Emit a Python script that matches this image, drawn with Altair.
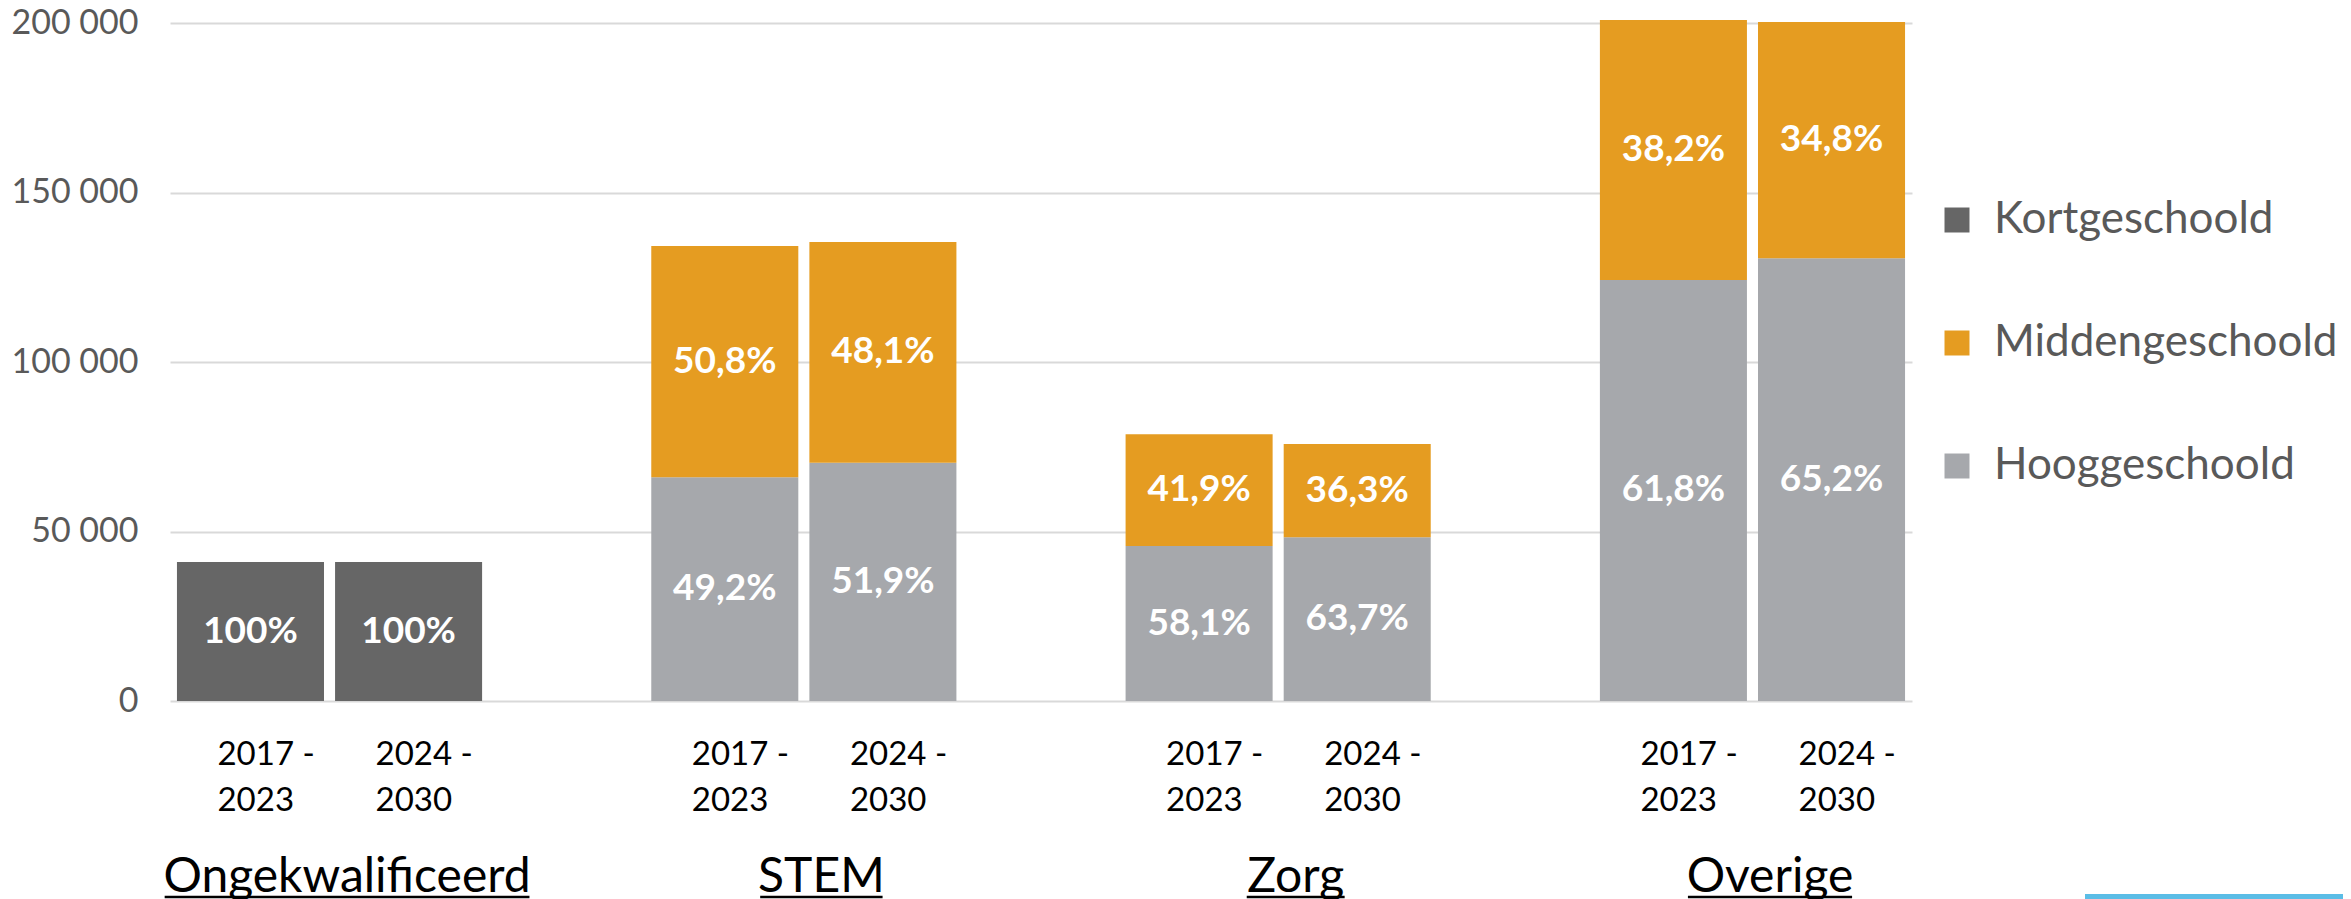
import altair as alt
import pandas as pd

FONT = "Lato"

groups = ["Ongekwalificeerd", "STEM", "Zorg", "Overige"]
periods = ["2017 - 2023", "2024 - 2030"]
levels = ["Kortgeschoold", "Middengeschoold", "Hooggeschoold"]
level_colors = ["#666666", "#E59C21", "#A6A8AC"]

# one entry per bar: (group, period) in order
kort_values = [41000, 41000, 0, 0, 0, 0, 0, 0]
midden_values = [0, 0, 68200, 65100, 33000, 27500, 76700, 69700]
hoog_values = [0, 0, 66000, 70300, 45700, 48300, 124200, 130600]
kort_pct = [100, 100, 0, 0, 0, 0, 0, 0]
midden_pct = [0, 0, 50.8, 48.1, 41.9, 36.3, 38.2, 34.8]
hoog_pct = [0, 0, 49.2, 51.9, 58.1, 63.7, 61.8, 65.2]
y_ticks = [0, 50000, 100000, 150000, 200000]

GROUP_FONT_SIZE = 48
# approximate Lato Regular advance widths (em) used to size the underlines
LATO_EM = {"O": 0.76, "n": 0.56, "g": 0.51, "e": 0.52, "k": 0.51, "w": 0.77, "a": 0.49,
           "l": 0.24, "i": 0.24, "f": 0.33, "c": 0.46, "r": 0.37, "d": 0.56, "S": 0.53,
           "T": 0.58, "E": 0.55, "M": 0.89, "Z": 0.60, "o": 0.56, "v": 0.50}

bar_keys = [f"{g}|{p}" for g in groups for p in periods]
slot_domain = []
for gi, g in enumerate(groups):
    slot_domain += [f"{g}|{p}" for p in periods]
    if gi < len(groups) - 1:
        slot_domain.append(f"gap{gi}")

stack_order = {"Hooggeschoold": 0, "Kortgeschoold": 0, "Middengeschoold": 1}
rows = []
for i, key in enumerate(bar_keys):
    for lvl, vals, pcts in [("Kortgeschoold", kort_values, kort_pct),
                            ("Hooggeschoold", hoog_values, hoog_pct),
                            ("Middengeschoold", midden_values, midden_pct)]:
        if vals[i] > 0:
            p = pcts[i]
            lab = "100%" if p == 100 else f"{p:.1f}".replace(".", ",") + "%"
            rows.append(dict(slot=key, level=lvl, value=vals[i], ord=stack_order[lvl], label=lab))
df = pd.DataFrame(rows)

gdf = pd.DataFrame({
    "slot": [f"{g}|{periods[1]}" for g in groups],
    "text": groups,
    "w": [sum(LATO_EM.get(c, 0.55) for c in g) * GROUP_FONT_SIZE for g in groups],
})

xscale = alt.Scale(domain=slot_domain, paddingInner=0.07, paddingOuter=0.044)
yscale = alt.Scale(domain=[0, 200000], nice=False)

x_label_expr = ("length(split(datum.value, '|')) < 2 ? '' : "
                "[substring(split(datum.value, '|')[1], 0, 6), substring(split(datum.value, '|')[1], 7)]")

base = alt.Chart(df).transform_stack(
    stack="value", groupby=["slot"], sort=[alt.SortField("ord", order="ascending")], as_=["y0", "y1"]
).transform_calculate(mid="(datum.y0 + datum.y1) / 2")

bars = base.mark_bar().encode(
    x=alt.X("slot:N", scale=xscale, sort=slot_domain,
            axis=alt.Axis(title=None, labelExpr=x_label_expr, labelAlign="left", labelOffset=-33,
                          labelPadding=37, labelFontSize=33, labelColor="#000000", labelFont=FONT,
                          labelLineHeight=46, domain=False, ticks=False, labelAngle=0,
                          labelBaseline="top", labelOverlap=False)),
    y=alt.Y("y0:Q", scale=yscale,
            axis=alt.Axis(title=None, values=y_ticks,
                          labelExpr="replace(format(datum.value, ','), ',', ' ')",
                          labelFontSize=34, labelColor="#595959", labelFont=FONT, labelPadding=32,
                          domain=False, ticks=False, grid=True, gridColor="#D9D9D9", gridWidth=2)),
    y2="y1:Q",
    color=alt.Color("level:N", scale=alt.Scale(domain=levels, range=level_colors),
                    legend=alt.Legend(title=None, orient="none", legendX=1765, legendY=175,
                                      symbolType="square", symbolSize=625, symbolStrokeWidth=0,
                                      labelFontSize=44, labelColor="#595959", labelFont=FONT,
                                      labelLimit=0, rowPadding=79, labelOffset=15, padding=0)),
)

pct_labels = base.mark_text(font=FONT, fontWeight="bold", fontSize=37, color="white").encode(
    x=alt.X("slot:N", scale=xscale, sort=slot_domain),
    y=alt.Y("mid:Q", scale=yscale),
    text="label:N",
)

group_labels = alt.Chart(gdf).mark_text(font=FONT, fontSize=GROUP_FONT_SIZE, color="black",
                                        align="center", baseline="alphabetic", dx=12).encode(
    x=alt.X("slot:N", scale=xscale, sort=slot_domain, bandPosition=0),
    y=alt.value(869),
    text="text:N",
)

group_underlines = alt.Chart(gdf).mark_rule(
    strokeWidth=2.5, color="black",
    xOffset={"expr": "12 - datum.w / 2"}, x2Offset={"expr": "12 + datum.w / 2"},
).encode(
    x=alt.X("slot:N", scale=xscale, sort=slot_domain, bandPosition=0),
    x2=alt.X2("slot:N", bandPosition=0),
    y=alt.value(874),
)

blue = alt.Chart(pd.DataFrame({"a": [0]})).mark_rule(color="#5BBDE6", strokeWidth=6).encode(
    x=alt.value(1915), x2=alt.value(2173), y=alt.value(874)
)

chart = alt.layer(bars, pct_labels, group_labels, group_underlines, blue).properties(
    width=1742, height=678,
    padding={"left": 162, "top": 15, "right": 431, "bottom": 220},
    autosize=alt.AutoSizeParams(type="none"),
).configure_view(stroke=None)

chart.save("out.html", embed_options={"renderer": "svg", "actions": False})
